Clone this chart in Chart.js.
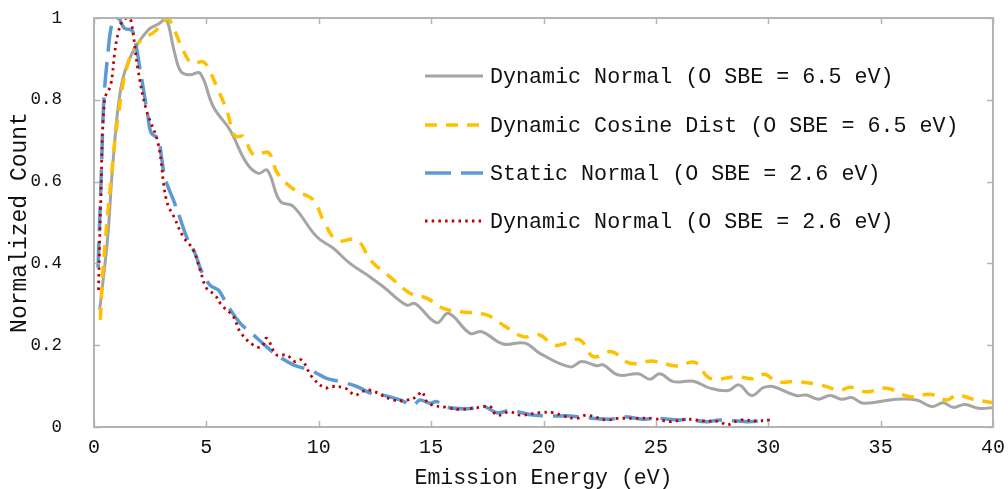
<!DOCTYPE html>
<html>
<head>
<meta charset="utf-8">
<script src="https://cdn.jsdelivr.net/npm/chart.js@4.4.1/dist/chart.umd.min.js"></script>
<style>
html,body{margin:0;padding:0;background:#fff;}
#wrap{width:1008px;height:489px;}
</style>
</head>
<body>
<div id="wrap"><canvas id="c" width="1008" height="489"></canvas></div>
<script>
// ---- data ----
const seriesNames = [
  "Dynamic Normal (O SBE = 6.5 eV)",
  "Dynamic Cosine Dist (O SBE = 6.5 eV)",
  "Static Normal (O SBE = 2.6 eV)",
  "Dynamic Normal (O SBE = 2.6 eV)"
];
const xTicks = [0,5,10,15,20,25,30,35,40];
const yTicks = [0,0.2,0.4,0.6,0.8,1];

const dynNorm65E = [0.25,0.45,0.62,0.85,1.2,1.66,2.4,2.92,3.2,3.59,3.87,4.27,4.72,5.31,6.05,6.79,7.31,7.71,8.28,8.87,9.91,10.65,11.39,12.28,12.87,13.91,14.28,15.25,15.77,16.73,17.25,18.21,19.18,19.84,21.18,21.7,22.37,22.66,23.33,24.22,24.74,25.18,25.78,26.67,27.41,28.22,28.7,29.26,29.78,30.2,31.24,31.7,32.22,32.75,33.27,33.71,34.23,35.71,36.6,37.27,37.79,38.23,38.75,39.35,40];
const dynNorm65V = [0.286,0.38,0.47,0.65,0.83,0.91,0.97,0.987,1.0,0.914,0.869,0.861,0.865,0.783,0.726,0.645,0.62,0.628,0.552,0.539,0.465,0.437,0.40,0.367,0.343,0.298,0.302,0.255,0.278,0.229,0.233,0.203,0.205,0.18,0.147,0.16,0.15,0.152,0.127,0.13,0.117,0.13,0.111,0.112,0.095,0.089,0.103,0.077,0.096,0.099,0.077,0.078,0.068,0.077,0.068,0.072,0.058,0.068,0.066,0.05,0.059,0.048,0.055,0.046,0.047];

const dynCos65E = [0.28,0.4,0.77,1.07,1.51,2.03,2.7,3.07,3.3,3.83,4.27,4.49,4.86,5.16,5.46,5.9,6.2,6.35,6.64,7.12,7.76,8.17,8.94,9.76,10.2,10.8,11.69,12.35,13.17,14.06,14.8,15.54,16.28,17.47,18.21,19.1,19.84,20.44,21.03,21.62,22.22,23.03,23.85,24.89,25.93,26.74,27.41,28.6,29.37,29.85,30.38,31.27,32.3,33.19,33.64,34.38,35.27,36.3,37.2,37.94,38.38,39.12,40];
const dynCos65V = [0.262,0.384,0.612,0.759,0.889,0.942,0.967,0.991,1.0,0.938,0.891,0.889,0.893,0.869,0.832,0.775,0.718,0.71,0.71,0.665,0.671,0.62,0.579,0.555,0.506,0.457,0.457,0.405,0.367,0.327,0.315,0.29,0.282,0.274,0.249,0.221,0.225,0.2,0.205,0.213,0.172,0.184,0.156,0.161,0.149,0.158,0.119,0.123,0.118,0.129,0.111,0.111,0.103,0.09,0.097,0.086,0.095,0.074,0.08,0.066,0.078,0.068,0.059];

const statNorm26E = [0.18,0.33,0.44,0.62,0.77,0.95,1.1,1.35,1.7,1.88,2.03,2.18,2.4,2.55,2.85,3.0,3.14,3.29,3.59,3.83,4.12,4.49,4.79,5.16,5.53,5.68,5.98,6.5,7.02,7.68,8.13,8.87,9.61,10.06,10.35,10.95,11.69,12.35,12.87,13.62,14.21,14.5,14.95,15.25,15.69,16.73,17.32,17.92,18.51,19.55,20.29,21.18,21.62,22.96,23.55,24.44,25.03,26.07,26.37,27.26,27.85,29.04,29.78];
const statNorm26V = [0.39,0.628,0.80,0.914,0.979,1.0,1.0,0.975,0.969,0.93,0.881,0.832,0.759,0.718,0.706,0.661,0.612,0.588,0.547,0.51,0.465,0.425,0.38,0.347,0.335,0.323,0.294,0.254,0.229,0.196,0.176,0.152,0.139,0.127,0.119,0.111,0.099,0.082,0.078,0.066,0.054,0.066,0.058,0.062,0.048,0.045,0.051,0.035,0.04,0.029,0.027,0.027,0.024,0.019,0.025,0.019,0.021,0.017,0.019,0.013,0.017,0.013,0.015];

const dynNorm26E = [0.2,0.3,0.47,0.74,0.92,1.07,1.29,1.53,1.66,1.96,2.33,2.85,3.22,3.59,3.97,4.42,4.72,5.01,5.38,5.68,6.2,6.5,7.09,7.46,7.68,8.13,8.57,8.94,9.24,9.69,10.28,10.5,11.17,11.61,11.91,12.28,13.32,13.91,14.36,14.58,14.88,15.69,16.28,17.17,17.62,17.92,18.51,18.95,19.84,20.44,20.88,21.48,21.92,22.81,23.26,24.0,24.89,25.63,26.37,27.11,27.85,28.15,28.74,29.48,30.08];
const dynNorm26V = [0.335,0.55,0.80,0.836,0.914,0.962,0.995,1.0,0.99,0.873,0.775,0.694,0.555,0.51,0.465,0.433,0.384,0.339,0.323,0.298,0.27,0.233,0.2,0.196,0.217,0.176,0.176,0.16,0.164,0.123,0.095,0.099,0.095,0.078,0.086,0.09,0.066,0.066,0.074,0.086,0.058,0.048,0.043,0.048,0.05,0.029,0.037,0.029,0.035,0.035,0.027,0.021,0.029,0.017,0.021,0.021,0.021,0.013,0.019,0.015,0.013,0.005,0.017,0.015,0.017];

// ---- styles ----
const FONT = "'Liberation Mono', 'DejaVu Sans Mono', monospace";
const colors = ['#A5A5A5','#FFC000','#5B9BD5','#C00000'];
const dashes = [[], [12,9], [26,10], [2.5,4.2]];
const widths = [3, 3.5, 3.5, 2.8];

function pts(E,V){ return E.map((e,i)=>({x:e,y:V[i]})); }
const dataSets = [[dynNorm65E,dynNorm65V],[dynCos65E,dynCos65V],[statNorm26E,statNorm26V],[dynNorm26E,dynNorm26V]];

const datasets = dataSets.map((d,i)=>({
  label: seriesNames[i],
  data: pts(d[0],d[1]),
  borderColor: colors[i],
  backgroundColor: colors[i],
  borderWidth: widths[i],
  borderDash: dashes[i],
  pointRadius: 0,
  tension: 0.4,
  fill: false,
  order: [3,2,1,0][i]
}));

const framePlugin = {
  id: 'frame',
  afterDatasetsDraw(chart){
    const {ctx, chartArea:a, scales:{x,y}} = chart;
    ctx.save();
    ctx.strokeStyle = '#B4B4B4';
    ctx.lineWidth = 2;
    ctx.strokeRect(a.left, a.top, a.right-a.left, a.bottom-a.top);
    ctx.lineWidth = 1.5;
    const L = 6;
    ctx.beginPath();
    xTicks.forEach(v=>{
      const px = Math.round(x.getPixelForValue(v))+0.5;
      ctx.moveTo(px,a.bottom); ctx.lineTo(px,a.bottom-L);
      ctx.moveTo(px,a.top); ctx.lineTo(px,a.top+L);
    });
    yTicks.forEach(v=>{
      const py = Math.round(y.getPixelForValue(v))+0.5;
      ctx.moveTo(a.left,py); ctx.lineTo(a.left+L,py);
      ctx.moveTo(a.right,py); ctx.lineTo(a.right-L,py);
    });
    ctx.stroke();
    // legend
    const lx0 = 425, lx1 = 483, tx = 490, ys = [76,125,173,221];
    ctx.font = "21.7px " + FONT;
    ctx.textBaseline = 'middle';
    ctx.fillStyle = '#111';
    chart.data.datasets.forEach((ds,i)=>{
      ctx.save();
      ctx.strokeStyle = ds.borderColor;
      ctx.lineWidth = ds.borderWidth;
      ctx.setLineDash(ds.borderDash);
      ctx.beginPath(); ctx.moveTo(lx0, ys[i]); ctx.lineTo(lx1, ys[i]); ctx.stroke();
      ctx.restore();
      ctx.fillText(ds.label, tx, ys[i]+1);
    });
    ctx.restore();
  }
};

new Chart(document.getElementById('c'), {
  type: 'line',
  data: { datasets },
  plugins: [framePlugin],
  options: {
    responsive: false,
    animation: false,
    devicePixelRatio: 1,
    layout: { padding: { top: 18, right: 15, left: 0, bottom: 0 } },
    plugins: { legend: { display: false }, tooltip: { enabled: false } },
    scales: {
      x: {
        type: 'linear', min: 0, max: 40,
        afterFit(s){ s.height = 62; },
        afterBuildTicks(s){ s.ticks = xTicks.map(v=>({value:v})); },
        grid: { display: false, drawTicks: true, tickLength: 9 },
        border: { display: false },
        ticks: { color: '#111', padding: 0, font: { family: FONT, size: 20 }, maxRotation: 0,
                 callback: v => String(+v.toFixed(1)) },
        title: { display: true, text: 'Emission Energy (eV)', color: '#111', padding: 0, font: { family: FONT, size: 21.5, lineHeight: 1.0 } }
      },
      y: {
        type: 'linear', min: 0, max: 1,
        afterFit(s){ s.width = 94; },
        afterBuildTicks(s){ s.ticks = yTicks.map(v=>({value:v})); },
        grid: { display: false, drawTicks: true, tickLength: 32 },
        border: { display: false },
        ticks: { color: '#111', padding: 0, font: { family: FONT, size: 17.5 },
                 callback: v => String(+v.toFixed(1)) },
        title: { display: true, text: 'Normalized Count', color: '#111', padding: { top: 6, bottom: 0 }, font: { family: FONT, size: 23, lineHeight: 1.2 } }
      }
    }
  }
});
</script>
</body>
</html>
